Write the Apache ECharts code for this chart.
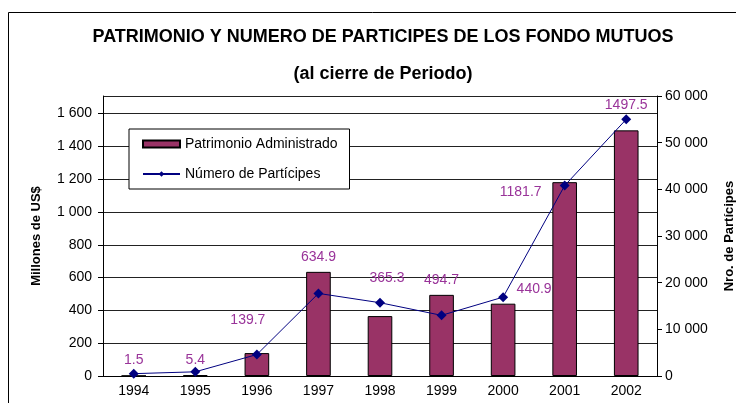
<!DOCTYPE html>
<html>
<head>
<meta charset="utf-8">
<script src="https://cdn.jsdelivr.net/npm/echarts@6/dist/echarts.min.js"></script>
<style>
  html, body { margin: 0; padding: 0; background: #fff; }
  #chart { width: 736px; height: 403px; }
</style>
</head>
<body>
<div id="chart"></div>
<script>
// años
var years = ['1994', '1995', '1996', '1997', '1998', '1999', '2000', '2001', '2002'];
// millones de US$
var patrimonio = [1.5, 5.4, 139.7, 634.9, 365.3, 494.7, 440.9, 1181.7, 1497.5];
// numero de participes
var participes = [500, 900, 4600, 17700, 15700, 13000, 16900, 40800, 55000];

// desplazamiento de etiquetas [dx, dy] respecto a la posicion 'top'
var labelShift = [[0, 0], [0, 0], [-9, -18], [0, 0], [7, -23], [0, 0], [31, 0], [-44, 25], [0, -10]];

function spaced(v) {
    return String(v).replace(/\B(?=(\d{3})+(?!\d))/g, ' ');
}

var chart = echarts.init(document.getElementById('chart'));

var barData = patrimonio.map(function (v, i) {
    return { value: v, label: { offset: labelShift[i] } };
});

var font = 'Liberation Sans, Arial, sans-serif';

chart.setOption({
    animation: false,
    textStyle: { fontFamily: font },
    title: [
        {
            text: 'PATRIMONIO Y NUMERO DE PARTICIPES DE LOS FONDO MUTUOS',
            left: 378, top: 23, textAlign: 'center',
            textStyle: { fontSize: 18, fontWeight: 'bold', color: '#000', fontFamily: font }
        },
        {
            text: '(al cierre de Periodo)',
            left: 378, top: 60, textAlign: 'center',
            textStyle: { fontSize: 18, fontWeight: 'bold', color: '#000', fontFamily: font }
        }
    ],
    graphic: [{
        type: 'rect',
        shape: { x: 8.5, y: 12.5, width: 740, height: 400 },
        style: { fill: 'none', stroke: '#000', lineWidth: 1 },
        silent: true
    }],
    legend: {
        orient: 'vertical',
        left: 129, top: 129,
        padding: [8, 12, 8, 13],
        itemGap: 16,
        itemWidth: 37,
        itemHeight: 7,
        borderColor: '#000',
        borderWidth: 1,
        backgroundColor: '#fff',
        textStyle: { fontSize: 14, color: '#000', fontFamily: font },
        data: [
            { name: 'Patrimonio Administrado', icon: 'rect' },
            { name: 'Número de Partícipes' }
        ]
    },
    grid: { left: 103, right: 79, top: 96, bottom: 27, outerBoundsMode: 'none' },
    xAxis: {
        type: 'category',
        data: years,
        axisLine: { lineStyle: { color: '#000' } },
        axisTick: { length: 5, lineStyle: { color: '#000' } },
        axisLabel: { color: '#000', fontSize: 14, margin: 8 }
    },
    yAxis: [
        {
            type: 'value', min: 0, max: 1707, interval: 200,
            name: 'Millones de US$', nameLocation: 'middle', nameRotate: 90, nameGap: 60,
            nameTextStyle: { fontSize: 13, fontWeight: 'bold', color: '#000' },
            axisLine: { show: true, lineStyle: { color: '#000' } },
            axisTick: { show: true, length: 5, lineStyle: { color: '#000' } },
            axisLabel: { color: '#000', fontSize: 14, margin: 11, showMaxLabel: false, formatter: spaced },
            splitLine: { lineStyle: { color: '#222', width: 1 } }
        },
        {
            type: 'value', min: 0, max: 60000, interval: 10000,
            name: 'Nro. de Partícipes', nameLocation: 'middle', nameRotate: 90, nameGap: 66,
            nameTextStyle: { fontSize: 13, fontWeight: 'bold', color: '#000' },
            axisLine: { show: true, lineStyle: { color: '#000' } },
            axisTick: { show: true, length: 5, lineStyle: { color: '#000' } },
            axisLabel: { color: '#000', fontSize: 14, margin: 8, formatter: spaced },
            splitLine: { show: false }
        }
    ],
    series: [
        {
            name: 'Patrimonio Administrado',
            type: 'bar',
            yAxisIndex: 0,
            barWidth: '40%',
            data: barData,
            itemStyle: { color: '#993366', borderColor: '#000', borderWidth: 1 },
            label: {
                show: true, position: 'top', distance: 8,
                color: '#993399', fontSize: 14, fontFamily: font
            }
        },
        {
            name: 'Número de Partícipes',
            type: 'line',
            yAxisIndex: 1,
            data: participes,
            symbol: 'diamond',
            symbolSize: 10,
            lineStyle: { color: '#000080', width: 1 },
            itemStyle: { color: '#000080' }
        }
    ]
});
</script>
</body>
</html>
